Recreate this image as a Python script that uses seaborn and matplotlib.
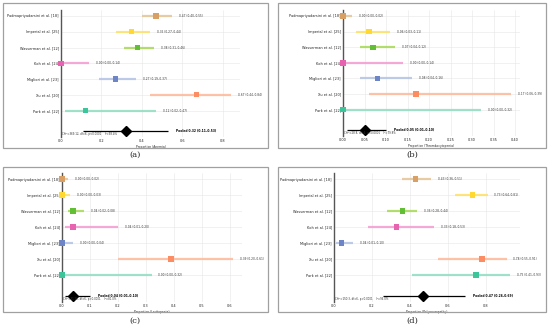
"""Forest plots: pooled proportions of four adverse events"""

import matplotlib
matplotlib.use("Agg")
import matplotlib.pyplot as plt
from matplotlib.patches import Rectangle
import seaborn as sns
import pandas as pd

studies = ["Padmapriyadarsini et al. [18]", "Imperial et al. [25]", "Wasserman et al. [12]",
           "Koh et al. [24]", "Migliori et al. [23]", "Xu et al. [20]", "Park et al. [22]"]

anemia_est = [0.47, 0.35, 0.38, 0.00, 0.27, 0.67, 0.12]
anemia_lo = [0.40, 0.27, 0.31, 0.00, 0.19, 0.44, 0.02]
anemia_hi = [0.55, 0.44, 0.46, 0.14, 0.37, 0.84, 0.47]
anemia_pooled = (0.32, 0.11, 0.53)

thrombo_est = [0.00, 0.06, 0.07, 0.00, 0.08, 0.17, 0.00]
thrombo_lo = [0.00, 0.03, 0.04, 0.00, 0.04, 0.06, 0.00]
thrombo_hi = [0.02, 0.11, 0.12, 0.14, 0.16, 0.39, 0.32]
thrombo_pooled = (0.05, 0.01, 0.10)

leuko_est = [0.00, 0.00, 0.04, 0.04, 0.00, 0.39, 0.00]
leuko_lo = [0.00, 0.00, 0.02, 0.01, 0.00, 0.20, 0.00]
leuko_hi = [0.02, 0.03, 0.08, 0.20, 0.04, 0.61, 0.32]
leuko_pooled = (0.04, 0.01, 0.10)

poly_est = [0.43, 0.73, 0.36, 0.33, 0.04, 0.78, 0.75]
poly_lo = [0.36, 0.64, 0.28, 0.18, 0.01, 0.55, 0.41]
poly_hi = [0.51, 0.81, 0.44, 0.53, 0.10, 0.91, 0.93]
poly_pooled = (0.47, 0.26, 0.69)

outcomes = ["Anemia", "Thrombocytopenia", "Leukopenia", "Polyneuropathy"]
het_text = ["Chi²=369.12, df=6, p<0.0001    I²=98.4%",
            "Chi²=28.8, df=6, p<0.0001    I²=79.8%",
            "Chi²=31.56, df=6, p<0.0001    I²=81.0%",
            "Chi²=150.3, df=6, p<0.0001    I²=96.0%"]
captions = ["(a)", "(b)", "(c)", "(d)"]

line_colors = ["#e5c494", "#ffe066", "#a6d854", "#f49ad0", "#b3c2e4", "#fdb899", "#8fdcc0"]
marker_colors = ["#d9a066", "#ffd92f", "#62bf35", "#e763b0", "#6d84c6", "#fc8d62", "#3cc49a"]

panels = [
    (anemia_est, anemia_lo, anemia_hi, anemia_pooled, [0, 0.2, 0.4, 0.6, 0.8], "{:.1f}"),
    (thrombo_est, thrombo_lo, thrombo_hi, thrombo_pooled,
     [0, 0.05, 0.10, 0.15, 0.20, 0.25, 0.30, 0.35, 0.40], "{:.2f}"),
    (leuko_est, leuko_lo, leuko_hi, leuko_pooled, [0, 0.1, 0.2, 0.3, 0.4, 0.5, 0.6], "{:.1f}"),
    (poly_est, poly_lo, poly_hi, poly_pooled, [0, 0.2, 0.4, 0.6, 0.8], "{:.1f}"),
]

# pixel layout (x, y_top, w, h) of frames and axes
W, H = 550, 331
frames = [(3, 3, 265, 145), (278, 3, 268, 145), (3, 167, 265, 145), (278, 167, 268, 145)]
axrects = [(61, 10, 179, 127), (343, 10, 177, 126), (62, 173, 180, 129), (334, 173, 186, 129)]
cap_pos = [(135, 155), (412, 155), (135, 321), (412, 321)]

sns.set_theme(style="whitegrid")
plt.rcParams["font.family"] = ["DejaVu Sans"]

fig = plt.figure(figsize=(5.5, 3.31), dpi=100)
fig.patch.set_facecolor("white")

POOLED_Y = 7.3

for i, (est, lo, hi, pooled, ticks, fmt) in enumerate(panels):
    fx, fy, fw, fh = frames[i]
    fig.patches.append(Rectangle((fx / W, 1 - (fy + fh) / H), fw / W, fh / H,
                                 transform=fig.transFigure, fill=False,
                                 edgecolor="#a0a0a0", lw=0.9))
    ax_x, ax_y, ax_w, ax_h = axrects[i]
    ax = fig.add_axes([ax_x / W, 1 - (ax_y + ax_h) / H, ax_w / W, ax_h / H])

    df = pd.DataFrame({"study": studies, "est": est, "lo": lo, "hi": hi,
                       "row": range(len(studies))})
    for _, r in df.iterrows():
        c = line_colors[r["row"]]
        ax.hlines(r["row"], r["lo"], r["hi"], color=c, lw=1.6, alpha=0.85, zorder=2)
        ax.annotate(f"{r['est']:.2f} ({r['lo']:.2f}–{r['hi']:.2f})", (r["hi"], r["row"]),
                    xytext=(5, 0), textcoords="offset points", va="center",
                    fontsize=2.1, color="#333333")
    sns.scatterplot(data=df, x="est", y="row", hue="study", palette=marker_colors,
                    marker="s", s=15, linewidth=0, legend=False, ax=ax, zorder=3,
                    clip_on=False)

    p, plo, phi = pooled
    ax.hlines(POOLED_Y, plo, phi, color="black", lw=0.9, zorder=2)
    ax.plot([p], [POOLED_Y], marker="D", color="black", ms=4.8, zorder=3)
    ax.annotate(f"Pooled {p:.2f} ({plo:.2f}–{phi:.2f})", (phi, POOLED_Y),
                xytext=(6, 0), textcoords="offset points", va="center",
                fontsize=2.2, fontweight="bold", color="black")
    ax.text(0.005, 0.005, het_text[i], transform=ax.transAxes, ha="left", va="bottom",
            fontsize=1.9, color="#333333")

    ax.set_xlim(0, max(hi) * 1.055)
    ax.set_ylim(POOLED_Y + 0.38, -0.38)
    ax.set_yticks(range(len(studies)))
    ax.set_yticklabels(studies)
    ax.set_xticks(ticks)
    ax.set_xticklabels([fmt.format(t) for t in ticks])
    ax.tick_params(axis="both", length=0, pad=1.5, labelsize=2.5, colors="#222222")
    ax.set_xlabel(f"Proportion ({outcomes[i]})", fontsize=2.2, labelpad=1.5)
    ax.set_ylabel("")
    ax.grid(True, color="#e6e6e6", lw=0.4)
    for s in ["top", "right", "bottom"]:
        ax.spines[s].set_visible(False)
    ax.spines["left"].set_visible(True)
    ax.spines["left"].set_color("#555555")
    ax.spines["left"].set_linewidth(1.0)
    ax.set_facecolor("white")

    cx, cy = cap_pos[i]
    fig.text(cx / W, 1 - cy / H, captions[i], ha="center", va="center", fontsize=6,
             family=["DejaVu Serif"])

fig.savefig("out.png", dpi=100)
